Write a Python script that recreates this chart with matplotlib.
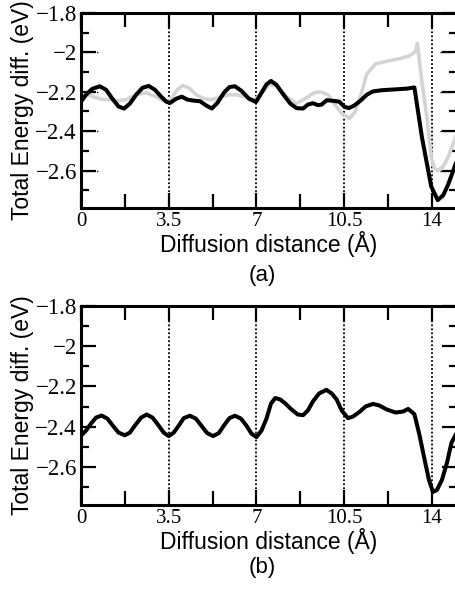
import matplotlib
matplotlib.use("Agg")
import matplotlib.pyplot as plt
from matplotlib.ticker import MultipleLocator

# ---------------- data ----------------
xa_black = [0.00, 0.20, 0.45, 0.75, 1.00, 1.25, 1.50, 1.72, 1.95, 2.20, 2.45, 2.70,
            2.95, 3.20, 3.40, 3.55, 3.80, 4.02, 4.25, 4.50, 4.75, 5.00, 5.22, 5.45,
            5.70, 5.92, 6.14, 6.40, 6.70, 6.98, 7.20, 7.40, 7.58, 7.80, 8.05, 8.35,
            8.60, 8.86, 9.05, 9.25, 9.45, 9.60, 9.80, 10.00, 10.30, 10.50, 10.68,
            10.90, 11.15, 11.40, 11.65, 12.00, 12.50, 13.00, 13.30, 13.60, 13.97,
            14.23, 14.45, 14.65, 14.95]
ya_black = [-2.250, -2.215, -2.185, -2.172, -2.190, -2.235, -2.275, -2.285, -2.260,
            -2.215, -2.180, -2.170, -2.190, -2.225, -2.250, -2.257, -2.235, -2.225,
            -2.240, -2.245, -2.248, -2.270, -2.285, -2.255, -2.205, -2.176, -2.172,
            -2.195, -2.235, -2.252, -2.205, -2.162, -2.145, -2.165, -2.210, -2.260,
            -2.283, -2.285, -2.265, -2.258, -2.268, -2.265, -2.243, -2.245, -2.250,
            -2.275, -2.283, -2.270, -2.245, -2.215, -2.198, -2.192, -2.188, -2.184,
            -2.178, -2.430, -2.680, -2.750, -2.725, -2.670, -2.565]

xa_gray = [0.00, 0.30, 0.60, 0.90, 1.20, 1.50, 1.80, 2.20, 2.60, 3.00, 3.35, 3.55,
           3.80, 4.05, 4.30, 4.60, 4.90, 5.20, 5.50, 5.90, 6.20, 6.50, 6.90, 7.20,
           7.50, 7.80, 8.20, 8.60, 9.00, 9.30, 9.55, 9.85, 10.10, 10.40, 10.72,
           10.95, 11.20, 11.40, 11.75, 12.20, 12.70, 13.10, 13.35, 13.42, 13.60,
           13.80, 13.97, 14.10, 14.23, 14.45, 14.65, 14.95]
ya_gray = [-2.225, -2.215, -2.230, -2.240, -2.240, -2.245, -2.240, -2.215, -2.205,
           -2.225, -2.250, -2.245, -2.195, -2.168, -2.180, -2.215, -2.235, -2.240,
           -2.230, -2.215, -2.215, -2.225, -2.240, -2.210, -2.165, -2.170, -2.225,
           -2.260, -2.230, -2.205, -2.200, -2.215, -2.260, -2.310, -2.335, -2.300,
           -2.200, -2.110, -2.058, -2.045, -2.032, -2.018, -1.995, -1.955, -2.150,
           -2.330, -2.530, -2.590, -2.600, -2.580, -2.530, -2.430]

xb = [0.00, 0.20, 0.40, 0.60, 0.82, 1.05, 1.30, 1.50, 1.75, 1.95, 2.15, 2.40, 2.62,
      2.85, 3.10, 3.30, 3.50, 3.70, 3.90, 4.10, 4.34, 4.58, 4.80, 5.03, 5.27, 5.50,
      5.70, 5.92, 6.14, 6.38, 6.60, 6.80, 7.00, 7.20, 7.40, 7.58, 7.75, 7.95, 8.15,
      8.40, 8.65, 8.86, 9.05, 9.25, 9.50, 9.79, 10.00, 10.20, 10.40, 10.65, 10.85,
      11.10, 11.35, 11.65, 11.90, 12.20, 12.55, 12.85, 13.05, 13.30, 13.50, 13.70,
      13.88, 14.04, 14.20, 14.40, 14.60, 14.78, 14.95]
yb = [-2.445, -2.420, -2.385, -2.355, -2.345, -2.360, -2.400, -2.430, -2.443, -2.430,
      -2.395, -2.355, -2.340, -2.355, -2.395, -2.430, -2.447, -2.430, -2.395, -2.358,
      -2.346, -2.360, -2.395, -2.432, -2.447, -2.432, -2.395, -2.358, -2.346, -2.360,
      -2.395, -2.435, -2.452, -2.420, -2.360, -2.285, -2.258, -2.265, -2.285, -2.315,
      -2.340, -2.343, -2.320, -2.275, -2.235, -2.217, -2.235, -2.265, -2.320, -2.358,
      -2.350, -2.328, -2.300, -2.287, -2.295, -2.315, -2.330, -2.325, -2.312, -2.338,
      -2.440, -2.560, -2.665, -2.725, -2.715, -2.665, -2.580, -2.480, -2.440]

vlines = [3.5, 7, 10.5, 14]
xticks = [0, 3.5, 7, 10.5, 14]
xticklabels = ["0", "3.5", "7", "10.5", "14"]
yticks = [-1.8, -2.0, -2.2, -2.4, -2.6]
yticklabels = ["\u22121.8", "\u22122", "\u22122.2", "\u22122.4", "\u22122.6"]

serif = "Liberation Serif"
sans = "Liberation Sans"

fig = plt.figure(figsize=(4.55, 5.95), dpi=100)

W = 455.0
H = 595.0
ax_a = fig.add_axes([81 / W, 1 - 208 / H, 376 / W, 195 / H])
ax_b = fig.add_axes([81 / W, 1 - 505 / H, 376 / W, 199 / H])


def style(ax):
    ax.set_xlim(0, 15)
    ax.set_ylim(-2.79, -1.8)
    for v in vlines:
        ax.axvline(v, color="black", ls=(0, (1, 1.2)), lw=1.3, zorder=1)
    ax.set_xticks(xticks)
    ax.set_xticklabels(xticklabels, fontfamily=serif, fontsize=15)
    ax.xaxis.set_minor_locator(MultipleLocator(1.75))
    ax.set_yticks(yticks)
    ax.set_yticklabels(yticklabels, fontfamily=serif, fontsize=16.5)
    ax.yaxis.set_minor_locator(MultipleLocator(0.1))
    ax.tick_params(which="both", direction="in", top=True, right=True, width=1.6)
    ax.tick_params(which="major", length=11, pad=3)
    ax.tick_params(which="minor", length=6)
    ax.tick_params(axis="x", which="minor", length=10)
    for s in ax.spines.values():
        s.set_linewidth(2.2)
    ax.set_xlabel("Diffusion distance (\u00c5)", fontfamily=sans, fontsize=16.5, labelpad=0)
    ax.set_ylabel("Total Energy diff. (eV)", fontfamily=sans, fontsize=16.5, labelpad=1)


# ---------- panel (a) ----------
style(ax_a)
ax_a.plot(xa_gray, ya_gray, color="#d4d4d4", lw=2.6, zorder=2, solid_joinstyle="round")
ax_a.plot(xa_black, ya_black, color="black", lw=2.9, zorder=3, solid_joinstyle="round")
for yv in yticks[1:]:
    ax_a.axhline(yv, xmin=0.013, xmax=0.045, color="black", ls=(0, (1, 1.5)), lw=1.0)
    ax_a.axhline(yv, xmin=0.955, xmax=0.985, color="black", ls=(0, (1, 1.5)), lw=1.0)

# ---------- panel (b) ----------
style(ax_b)
ax_b.plot(xb, yb, color="black", lw=2.9, zorder=3, solid_joinstyle="round")

fig.text(262 / W, 1 - 275 / H, "(a)", ha="center", va="center", fontfamily=sans, fontsize=16)
fig.text(262 / W, 1 - 568 / H, "(b)", ha="center", va="center", fontfamily=sans, fontsize=16)

fig.savefig("out.png", dpi=100)
